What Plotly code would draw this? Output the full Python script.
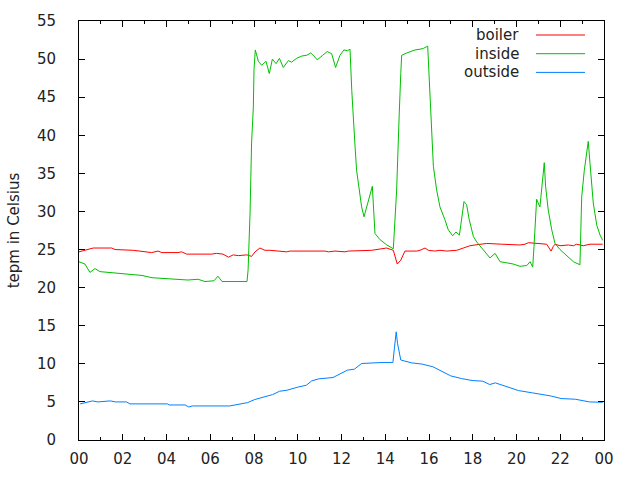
import pandas as pd
import plotly.graph_objects as go

# ---- data (hour of day, temperature) ----
boiler_hours = [0.0, 0.27, 0.65, 1.49, 1.65, 2.48, 2.71, 3.32, 3.61, 3.79, 4.53, 4.69, 4.92, 6.07, 6.29,
                6.58, 6.83, 7.05, 7.28, 7.67, 7.89, 8.05, 8.27, 8.50, 8.73, 9.49, 9.65, 11.25, 11.40, 11.70,
                12.16, 12.31, 13.38, 13.84, 14.06, 14.37, 14.45, 14.55, 14.71, 14.90, 15.44, 15.59, 15.82,
                15.97, 16.27, 16.50, 16.81, 17.27, 17.57, 17.87, 18.10, 18.33, 18.64, 19.32, 20.16, 20.39,
                20.54, 21.38, 21.45, 21.58, 21.68, 21.76, 21.99, 22.37, 22.60, 22.75, 23.05, 23.36, 23.94]
boiler_vals = [24.7, 24.9, 25.2, 25.2, 25.0, 24.9, 24.8, 24.6, 24.8, 24.6, 24.6, 24.7, 24.4, 24.4, 24.5,
               24.4, 24.0, 24.3, 24.2, 24.3, 24.1, 24.7, 25.2, 24.9, 24.9, 24.7, 24.8, 24.8, 24.7, 24.8,
               24.7, 24.8, 24.9, 25.1, 25.2, 24.9, 24.1, 23.1, 23.6, 24.8, 24.8, 24.9, 25.2,
               24.9, 24.8, 24.9, 24.8, 24.9, 25.2, 25.5, 25.6, 25.7, 25.8, 25.7, 25.6, 25.7,
               25.9, 25.7, 25.4, 24.8, 25.4, 25.7, 25.5, 25.6, 25.5, 25.7, 25.5, 25.7, 25.7]

inside_hours = [0.0, 0.27, 0.50, 0.73, 0.96, 1.65, 2.24, 2.88, 3.34, 4.25, 4.98, 5.44, 5.76, 6.17, 6.35,
                6.54, 7.68, 7.73, 7.82, 7.89, 7.97, 8.00, 8.06, 8.20, 8.35, 8.55, 8.70, 8.84, 9.01, 9.16,
                9.34, 9.57, 9.72, 9.95, 10.18, 10.41, 10.59, 10.71, 10.89, 11.14, 11.35, 11.55, 11.73,
                11.93, 12.11, 12.27, 12.39, 12.47, 12.54, 12.62, 12.69, 12.81, 12.92, 13.03, 13.15, 13.30,
                13.41, 13.53, 13.76, 14.07, 14.37, 14.52, 14.60, 14.64, 14.71, 14.75, 14.98, 15.21, 15.36,
                15.59, 15.74, 15.94, 16.00, 16.05, 16.12, 16.20, 16.35, 16.50, 16.73, 16.88, 17.08, 17.23,
                17.39, 17.49, 17.60, 17.72, 17.84, 18.03, 18.18, 18.41, 18.79, 19.02, 19.25, 19.47, 19.85,
                20.16, 20.47, 20.62, 20.74, 20.80, 20.85, 20.92, 21.07, 21.15, 21.23, 21.27, 21.33, 21.45,
                21.61, 21.76, 21.99, 22.29, 22.60, 22.90, 22.94, 22.98, 23.10, 23.21, 23.28, 23.36, 23.51,
                23.67, 23.82, 23.94]
inside_vals = [23.4, 23.1, 22.0, 22.5, 22.1, 21.9, 21.7, 21.6, 21.3, 21.1, 21.0, 21.1, 20.8, 20.9, 21.5,
               20.8, 20.8, 22.3, 29.8, 39.0, 43.7, 48.6, 51.2, 49.7, 49.2, 49.7, 48.1, 50.0, 49.4, 50.1,
               48.9, 49.8, 49.6, 50.1, 50.4, 50.5, 50.8, 50.5, 49.9, 50.5, 51.0, 50.7, 48.9,
               50.5, 51.2, 51.1, 51.3, 45.9, 41.6, 38.5, 35.4, 32.8, 30.6, 29.3, 30.6, 32.2,
               33.3, 27.1, 26.3, 25.6, 25.1, 32.8, 38.1, 42.9, 48.1, 50.5, 50.8, 51.1, 51.2,
               51.3, 51.4, 51.7, 48.1, 43.8, 39.4, 35.9, 32.8, 30.6, 28.9, 27.6, 26.8, 27.3,
               26.9, 29.3, 31.3, 30.9, 28.9, 26.7, 26.0, 25.2, 23.9, 24.5, 23.4, 23.3, 23.1,
               22.8, 22.9, 23.4, 22.7, 25.4, 28.9, 31.6, 30.6, 32.8, 35.4, 36.4, 33.3, 30.2,
               27.6, 25.8, 25.0, 24.2, 23.4, 23.0, 28.9, 31.9, 35.4, 38.1, 39.2, 36.3, 31.1,
               28.2, 26.9, 26.2]

outside_hours = [0.05, 0.29, 0.62, 0.86, 1.43, 1.68, 2.17, 2.33, 4.04, 4.12, 4.85, 5.02, 5.18, 6.89, 7.38,
                 7.71, 8.03, 8.44, 8.85, 9.17, 9.50, 9.99, 10.39, 10.64, 10.96, 11.61, 11.94, 12.27, 12.59,
                 12.92, 13.90, 14.35, 14.42, 14.50, 14.56, 14.63, 14.71, 15.20, 15.69, 16.18, 16.58, 16.99,
                 17.48, 17.97, 18.46, 18.78, 19.03, 19.35, 19.76, 20.09, 20.74, 21.55, 22.04, 22.69, 23.34,
                 23.83, 23.95]
outside_vals = [4.74, 4.87, 5.13, 5.0, 5.13, 5.0, 5.0, 4.74, 4.74, 4.6, 4.6, 4.34, 4.47, 4.47, 4.69,
                4.91, 5.31, 5.66, 5.96, 6.40, 6.53, 6.93, 7.19, 7.76, 8.03, 8.2, 8.73, 9.17, 9.30,
                10.04, 10.18, 10.18, 12.1, 14.2, 12.7, 11.8, 10.5, 10.13, 9.96, 9.61, 9.04, 8.42,
                8.07, 7.81, 7.72, 7.28, 7.5, 7.19, 6.75, 6.49, 6.18, 5.79, 5.44, 5.35, 5.0,
                4.91, 4.95]

series_names = ["boiler", "inside", "outside"]
series_colors = ["#ff0000", "#00c000", "#0080ff"]
y_title = "tepm in Celsius"

base = pd.Timestamp("2000-01-01")


def to_time(hours):
    return [base + pd.to_timedelta(h, unit="h") for h in hours]


fig = go.Figure()
for name, hrs, vals, col in zip(series_names,
                                [boiler_hours, inside_hours, outside_hours],
                                [boiler_vals, inside_vals, outside_vals],
                                series_colors):
    fig.add_trace(go.Scatter(x=to_time(hrs), y=vals, mode="lines", name=name,
                             line=dict(color=col, width=1), showlegend=False))

FONT = "DejaVu Sans"
TXT = "#222222"
fig.update_layout(
    width=640, height=480,
    margin=dict(l=79, r=36, t=21, b=40),
    paper_bgcolor="white", plot_bgcolor="white",
    font=dict(family=FONT, size=15, color=TXT),
    xaxis=dict(
        type="date",
        range=[base, base + pd.Timedelta(hours=24)],
        dtick=2 * 3600000, tick0=base, tickformat="%H",
        showgrid=False, zeroline=False,
        showline=True, linecolor="black", linewidth=1, mirror="allticks",
        ticks="inside", ticklen=6, tickcolor="black",
        minor=dict(dtick=3600000, ticks="inside", ticklen=3, tickcolor="black", showgrid=False),
        ticklabelstandoff=5,
        automargin=False,
    ),
    yaxis=dict(
        range=[0, 55], dtick=5, tick0=0,
        showgrid=False, zeroline=False,
        showline=True, linecolor="black", linewidth=1, mirror="allticks",
        ticks="inside", ticklen=6, tickcolor="black",
        title=dict(text=y_title, standoff=13, font=dict(size=15)),
        ticklabelstandoff=19,
        automargin=False,
    ),
)

# legend in gnuplot style: text right-aligned, then line sample
legend_y0 = 35
legend_step = 18.7
for i, (name, col) in enumerate(zip(series_names, series_colors)):
    ypx = legend_y0 + i * legend_step
    yp = 1 - (ypx - 21) / 419
    fig.add_annotation(x=(521 - 79) / 525, y=yp, xref="paper", yref="paper",
                       text=name, showarrow=False, xanchor="right", yanchor="middle",
                       font=dict(family=FONT, size=15, color=TXT))
    fig.add_shape(type="line", xref="paper", yref="paper",
                  x0=(536 - 79) / 525, x1=(585 - 79) / 525, y0=yp, y1=yp,
                  line=dict(color=col, width=1))

fig.write_html("out.html", config={"displayModeBar": False},
               post_script="document.body.style.margin='0';")
